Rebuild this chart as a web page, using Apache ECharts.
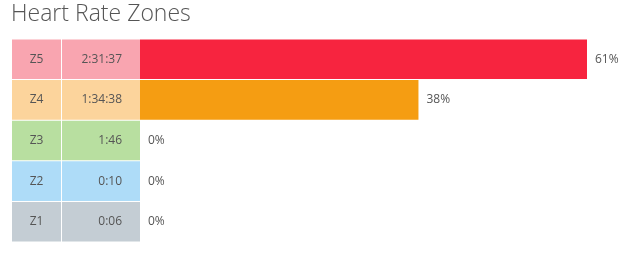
<!DOCTYPE html>
<html>
<head>
<meta charset="utf-8">
<script src="https://cdn.jsdelivr.net/npm/echarts@6/dist/echarts.min.js"></script>
<style>html,body{margin:0;padding:0;background:#fff}#c{width:634px;height:255px}</style>
</head>
<body>
<div id="c"></div>
<script>
const zones = ['Z5', 'Z4', 'Z3', 'Z2', 'Z1'];
const times = ['2:31:37', '1:34:38', '1:46', '0:10', '0:06'];
const percents = [61, 38, 0, 0, 0];

const cellColors = ['#f9a5b0', '#fcd49c', '#b8dfa0', '#aedcf8', '#c4cdd4'];
const barColors = ['#f7243f', '#f59d12', '#8fcf6e', '#6cbcf0', '#9aa6b0'];
const textColor = '#555555';
const FONT = 'Open Sans';

const chart = echarts.init(document.getElementById('c'), null, {renderer: 'canvas'});

const grids = [
  {left: 12, width: 49, top: 39, height: 203},
  {left: 62, width: 78, top: 39, height: 203},
  {left: 140, width: 447, top: 39, height: 203}
];

const yAxes = grids.map((g, i) => ({
  type: 'category', gridIndex: i, data: zones, inverse: true,
  axisLine: {show: false}, axisTick: {show: false}, axisLabel: {show: false}, splitLine: {show: false}
}));
const xAxes = grids.map((g, i) => ({
  type: 'value', gridIndex: i, min: 0, max: i < 2 ? 1 : 'dataMax',
  axisLine: {show: false}, axisTick: {show: false}, axisLabel: {show: false}, splitLine: {show: false}
}));

const barW = '97.6%';

chart.setOption({
  animation: false,
  title: {
    text: 'Heart Rate Zones', left: 11, top: 3, padding: 0,
    textStyle: {fontFamily: FONT, fontSize: 23, fontWeight: 300, color: textColor}
  },
  grid: grids,
  xAxis: xAxes,
  yAxis: yAxes,
  series: [
    {
      type: 'bar', xAxisIndex: 0, yAxisIndex: 0, barWidth: barW,
      data: zones.map((z, i) => ({value: 1, name: z, itemStyle: {color: cellColors[i]}})),
      label: {show: true, position: 'inside', formatter: p => zones[p.dataIndex],
        fontFamily: FONT, fontSize: 12, color: textColor}
    },
    {
      type: 'bar', xAxisIndex: 1, yAxisIndex: 1, barWidth: barW,
      data: times.map((t, i) => ({value: 1, itemStyle: {color: cellColors[i]}})),
      label: {show: true, position: 'insideRight', distance: 18, formatter: p => times[p.dataIndex],
        fontFamily: FONT, fontSize: 12, color: textColor}
    },
    {
      type: 'bar', xAxisIndex: 2, yAxisIndex: 2, barWidth: barW,
      data: percents.map((v, i) => ({value: v, itemStyle: {color: barColors[i]}})),
      label: {show: true, position: 'right', distance: 8, formatter: '{c}%',
        fontFamily: FONT, fontSize: 12, color: textColor}
    }
  ]
});
</script>
</body>
</html>
